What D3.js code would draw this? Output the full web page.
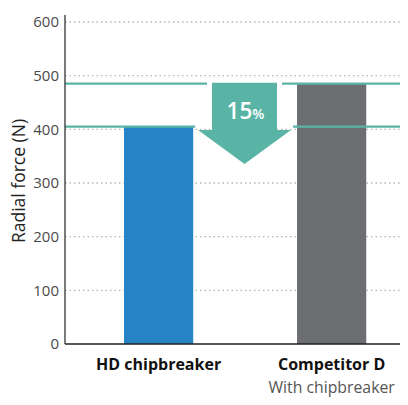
<!DOCTYPE html>
<html><head><meta charset="utf-8">
<script src="https://cdn.jsdelivr.net/npm/d3@7"></script>
<style>body{margin:0;background:#fff}svg{display:block}</style>
</head><body>
<svg id="c" width="408" height="405"></svg>
<script>
const categories = ["HD chipbreaker", "Competitor D"];
const subLabels = ["", "With chipbreaker"];
const values = [405, 485];
const colors = ["#2584c6", "#6d6e72"];
const yTicks = [0, 100, 200, 300, 400, 500, 600];
const yLabel = "Radial force (N)";
const reductionLabel = "15";

(function () {
const svg = d3.select("#c");
const font = "'Open Sans', 'Noto Sans', sans-serif";
const mL = 65, mR = 400, mT = 22, mB = 344;
const y = d3.scaleLinear().domain([0, 600]).range([mB, mT]);
const x = d3.scaleBand().domain(categories).range([mL, mR])
  .paddingInner(0.6).paddingOuter(0.268).align(0.636);

// gridlines
svg.append("g").selectAll("line").data(yTicks.filter(d => d > 0)).join("line")
  .attr("x1", mL).attr("x2", mR).attr("y1", d => y(d)).attr("y2", d => y(d))
  .attr("stroke", "#b5b5b5").attr("stroke-width", 1.3).attr("stroke-dasharray", "1.5,3");

// bars
svg.append("g").selectAll("rect").data(categories).join("rect")
  .attr("x", d => x(d)).attr("width", x.bandwidth())
  .attr("y", (d, i) => y(values[i])).attr("height", (d, i) => mB - y(values[i]))
  .attr("fill", (d, i) => colors[i]);

// teal reference lines
const teal = "#5ab4a6";
const bw = x.bandwidth();
const x0 = x(categories[0]), x1 = x(categories[1]);
const arrowL = 212, arrowR = 277;
svg.append("line").attr("x1", mL).attr("x2", arrowL - 5).attr("y1", y(values[1])).attr("y2", y(values[1]))
  .attr("stroke", teal).attr("stroke-width", 2.2);
svg.append("line").attr("x1", arrowR + 5).attr("x2", mR).attr("y1", y(values[1])).attr("y2", y(values[1]))
  .attr("stroke", teal).attr("stroke-width", 2.2);
svg.append("line").attr("x1", mL).attr("x2", x0 + bw + 2).attr("y1", y(values[0])).attr("y2", y(values[0]))
  .attr("stroke", teal).attr("stroke-width", 2.2);
svg.append("line").attr("x1", x1 - 4).attr("x2", mR).attr("y1", y(values[0])).attr("y2", y(values[0]))
  .attr("stroke", teal).attr("stroke-width", 2.2);

// arrow
const aTop = y(values[1]) - 1;
const headY = 130, tipY = 164, hl = 198, hr = 291, cx = 244.5;
svg.append("path")
  .attr("d", `M${arrowL},${aTop}L${arrowR},${aTop}L${arrowR},${headY}L${hr},${headY}L${cx},${tipY}L${hl},${headY}L${arrowL},${headY}Z`)
  .attr("fill", teal);
const t = svg.append("text").attr("x", 245.5).attr("y", 118.5).attr("text-anchor", "middle")
  .attr("fill", "#fff").attr("font-family", font).attr("font-weight", 600);
t.append("tspan").attr("font-size", 22.5).text(reductionLabel);
t.append("tspan").attr("font-size", 14).text("%");

// axes
svg.append("line").attr("x1", mL).attr("x2", mL).attr("y1", 15).attr("y2", mB)
  .attr("stroke", "#333").attr("stroke-width", 1.3);
svg.append("line").attr("x1", mL).attr("x2", mR).attr("y1", mB).attr("y2", mB)
  .attr("stroke", "#222").attr("stroke-width", 1.5);

// y tick labels
svg.append("g").selectAll("text").data(yTicks).join("text")
  .attr("x", mL - 6).attr("y", d => y(d)).attr("dy", "0.35em")
  .attr("text-anchor", "end").attr("font-family", font).attr("font-size", 15)
  .attr("fill", "#4a4a4a").text(d => d);

// y label
svg.append("text").attr("transform", `translate(25,181) rotate(-90)`)
  .attr("text-anchor", "middle").attr("font-family", font).attr("font-size", 17.5)
  .attr("fill", "#222").text(yLabel);

// category labels
svg.append("g").selectAll("text.cat").data(categories).join("text")
  .attr("class", "cat")
  .attr("x", d => x(d) + bw / 2).attr("y", 370).attr("text-anchor", "middle")
  .attr("font-family", font).attr("font-weight", 700).attr("font-size", 16)
  .attr("fill", "#111").text(d => d);
svg.append("g").selectAll("text.sub").data(categories).join("text")
  .attr("class", "sub")
  .attr("x", d => x(d) + bw / 2).attr("y", 393).attr("text-anchor", "middle")
  .attr("font-family", font).attr("font-size", 15.8)
  .attr("fill", "#555").text((d, i) => subLabels[i]);
})();
</script>
</body></html>
